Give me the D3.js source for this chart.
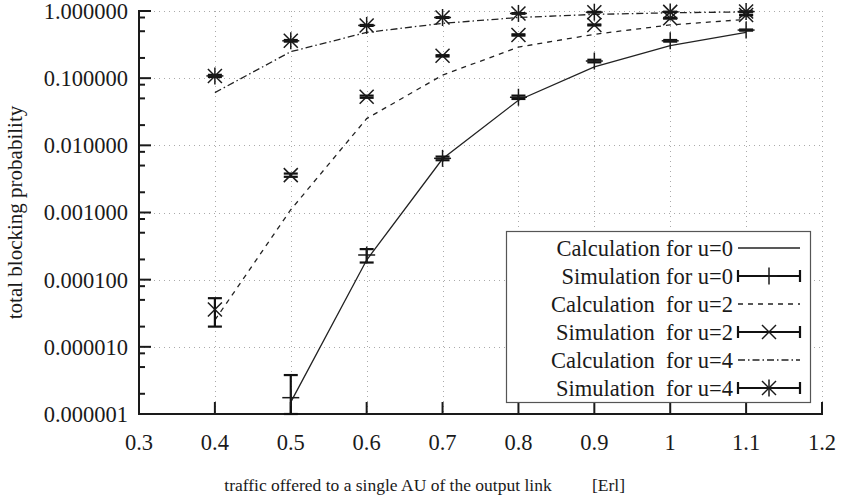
<!DOCTYPE html>
<html><head><meta charset="utf-8">
<script src="https://cdn.jsdelivr.net/npm/d3@7"></script>
<style>
html,body{margin:0;padding:0;background:#fff;}
svg{display:block;}
text{font-family:"Liberation Serif","Times New Roman",serif;fill:#1a1a1a;}
</style></head>
<body><svg id="c" width="841" height="504"></svg>
<script>
// ---- data ----
const traffic = [0.4, 0.5, 0.6, 0.7, 0.8, 0.9, 1.0, 1.1];
const calcU0 = [null, 1.5e-6, 1.96e-4, 6.3e-3, 0.047, 0.147, 0.305, 0.48];
const simU0 = [null, 1.75e-6, 2.33e-4, 6.4e-3, 0.052, 0.18, 0.36, 0.52];
const simU0Lo = [null, 1.0e-6, 1.8e-4, 6.0e-3, 0.049, 0.172, 0.35, 0.51];
const simU0Hi = [null, 3.8e-6, 2.85e-4, 6.8e-3, 0.055, 0.188, 0.37, 0.53];
const calcU2 = [2.5e-5, 1.1e-3, 0.025, 0.111, 0.29, 0.45, 0.62, 0.75];
const simU2 = [3.6e-5, 3.6e-3, 0.053, 0.215, 0.44, 0.62, 0.78, 0.87];
const simU2Lo = [2.0e-5, 3.4e-3, 0.051, 0.21, 0.43, 0.61, 0.77, 0.86];
const simU2Hi = [5.3e-5, 3.8e-3, 0.055, 0.22, 0.45, 0.63, 0.79, 0.88];
const calcU4 = [0.061, 0.248, 0.48, 0.655, 0.80, 0.89, 0.94, 0.97];
const simU4 = [0.108, 0.36, 0.61, 0.80, 0.92, 0.96, 0.97, 0.98];
const simU4Lo = [0.104, 0.35, 0.60, 0.79, 0.91, 0.95, 0.965, 0.975];
const simU4Hi = [0.112, 0.37, 0.62, 0.81, 0.93, 0.97, 0.975, 0.985];
const xTicks = [0.3, 0.4, 0.5, 0.6, 0.7, 0.8, 0.9, 1.0, 1.1, 1.2];
const yTicks = [1e-6, 1e-5, 1e-4, 1e-3, 1e-2, 1e-1, 1];
const legendLabels = ["Calculation for u=0", "Simulation for u=0", "Calculation  for u=2",
  "Simulation  for u=2", "Calculation  for u=4", "Simulation  for u=4"];
const xTitle = "traffic offered to a single AU of the output link";
const xUnit = "[Erl]";
const yTitle = "total blocking probability";

// ---- layout ----
const L = 139, R = 822, T = 11, B = 414;
const FS = 22.5;
const svg = d3.select("#c");
const x = d3.scaleLinear().domain([0.3, 1.2]).range([L, R]);
const y = d3.scaleLog().domain([1e-6, 1]).range([B, T]);

// grid
const grid = svg.append("g").attr("stroke", "#aaa").attr("stroke-width", 1)
  .attr("stroke-dasharray", "1,4");
grid.selectAll(".gx").data(xTicks.slice(1)).join("line")
  .attr("x1", d => Math.round(x(d)) + 0.5).attr("x2", d => Math.round(x(d)) + 0.5)
  .attr("y1", T).attr("y2", B);
grid.selectAll(".gy").data(yTicks.slice(1)).join("line")
  .attr("y1", d => Math.round(y(d)) + 0.5).attr("y2", d => Math.round(y(d)) + 0.5)
  .attr("x1", L).attr("x2", R);

// minor ticks values
const minor = [];
for (let e = -6; e < 0; e++) [2, 5, 8].forEach(m => minor.push(m * Math.pow(10, e)));

// axes
const ax = svg.append("g").attr("stroke", "#1a1a1a").attr("stroke-width", 2);
ax.append("line").attr("x1", L).attr("x2", L).attr("y1", T - 1).attr("y2", B + 1);
ax.append("line").attr("x1", L - 1).attr("x2", R + 1).attr("y1", B).attr("y2", B);
ax.selectAll(".ty").data(yTicks).join("line")
  .attr("x1", L).attr("x2", L + 12).attr("y1", d => y(d)).attr("y2", d => y(d));
ax.selectAll(".tym").data(minor).join("line")
  .attr("x1", L).attr("x2", L + 6).attr("y1", d => y(d)).attr("y2", d => y(d));
ax.selectAll(".tx").data(xTicks).join("line")
  .attr("x1", d => x(d)).attr("x2", d => x(d)).attr("y1", B).attr("y2", B - 12);

// tick labels
const fmtY = d3.format(".6f");
svg.append("g").selectAll("text").data(yTicks).join("text")
  .attr("x", L - 11).attr("y", d => y(d)).attr("dy", "0.35em")
  .attr("text-anchor", "end").attr("font-size", FS).text(d => fmtY(d));
svg.append("g").selectAll("text").data(xTicks).join("text")
  .attr("x", d => x(d)).attr("y", 450).attr("text-anchor", "middle")
  .attr("font-size", FS).text(d => String(+d.toFixed(1)));

// titles
svg.append("text").attr("x", 388).attr("y", 491).attr("text-anchor", "middle")
  .attr("font-size", 17.5).text(xTitle);
svg.append("text").attr("x", 592).attr("y", 491).attr("text-anchor", "start")
  .attr("font-size", 17.5).text(xUnit);
svg.append("text").attr("transform", `translate(22,${(T + B) / 2}) rotate(-90)`)
  .attr("text-anchor", "middle").attr("font-size", 21).text(yTitle);

// lines
const lineGen = d3.line().defined(d => d[1] != null).x(d => x(d[0])).y(d => y(d[1]));
const calcStyles = [
  { data: calcU0, dash: null },
  { data: calcU2, dash: "5,5" },
  { data: calcU4, dash: "7,3,1.5,3" }
];
const plot = svg.append("g");
calcStyles.forEach(s => {
  plot.append("path").datum(traffic.map((t, i) => [t, s.data[i]]))
    .attr("d", lineGen).attr("fill", "none").attr("stroke", "#222")
    .attr("stroke-width", 1.3).attr("stroke-dasharray", s.dash);
});

// markers
function marker(g, cx, cy, type) {
  const r = 8.5, c = 7;
  const p = [];
  if (type === "plus" || type === "star") p.push([[cx - r, cy], [cx + r, cy]], [[cx, cy - r], [cx, cy + r]]);
  if (type === "cross" || type === "star") p.push([[cx - c, cy - c], [cx + c, cy + c]], [[cx - c, cy + c], [cx + c, cy - c]]);
  p.forEach(seg => g.append("line").attr("x1", seg[0][0]).attr("y1", seg[0][1])
    .attr("x2", seg[1][0]).attr("y2", seg[1][1]).attr("stroke", "#1a1a1a").attr("stroke-width", 1.5));
}
const sims = [
  { v: simU0, lo: simU0Lo, hi: simU0Hi, m: "plus" },
  { v: simU2, lo: simU2Lo, hi: simU2Hi, m: "cross" },
  { v: simU4, lo: simU4Lo, hi: simU4Hi, m: "star" }
];
sims.forEach(s => {
  traffic.forEach((t, i) => {
    if (s.v[i] == null) return;
    const cx = x(t);
    const g = plot.append("g");
    const y1 = y(s.lo[i]), y2 = y(s.hi[i]);
    g.append("line").attr("x1", cx).attr("x2", cx).attr("y1", y1).attr("y2", y2)
      .attr("stroke", "#111").attr("stroke-width", 2.2);
    [y1, y2].forEach(yy => g.append("line").attr("x1", cx - 7).attr("x2", cx + 7)
      .attr("y1", yy).attr("y2", yy).attr("stroke", "#111").attr("stroke-width", 2.2));
    marker(g, cx, y(s.v[i]), s.m);
  });
});

// legend
const lg = svg.append("g");
lg.append("rect").attr("x", 506.5).attr("y", 231.5).attr("width", 304).attr("height", 171)
  .attr("fill", "#fff").attr("stroke", "#555").attr("stroke-width", 1.2);
const rowY = [248, 276, 304, 332, 360, 388];
const legendKinds = [
  { t: "calc", dash: null }, { t: "sim", m: "plus" },
  { t: "calc", dash: "5,5" }, { t: "sim", m: "cross" },
  { t: "calc", dash: "7,3,1.5,3" }, { t: "sim", m: "star" }
];
legendLabels.forEach((lab, i) => {
  const yy = rowY[i];
  lg.append("text").attr("x", 733).attr("y", yy).attr("dy", "0.35em")
    .attr("text-anchor", "end").attr("font-size", FS).style("white-space", "pre").text(lab);
  const k = legendKinds[i];
  if (k.t === "calc") {
    lg.append("line").attr("x1", 738).attr("x2", 800).attr("y1", yy).attr("y2", yy)
      .attr("stroke", "#222").attr("stroke-width", 1.3).attr("stroke-dasharray", k.dash);
  } else {
    lg.append("line").attr("x1", 738).attr("x2", 800).attr("y1", yy).attr("y2", yy)
      .attr("stroke", "#111").attr("stroke-width", 2.2);
    [738, 800].forEach(xx => lg.append("line").attr("x1", xx).attr("x2", xx)
      .attr("y1", yy - 6).attr("y2", yy + 6).attr("stroke", "#111").attr("stroke-width", 2.2));
    marker(lg, 769, yy, k.m);
  }
});
</script></body></html>
